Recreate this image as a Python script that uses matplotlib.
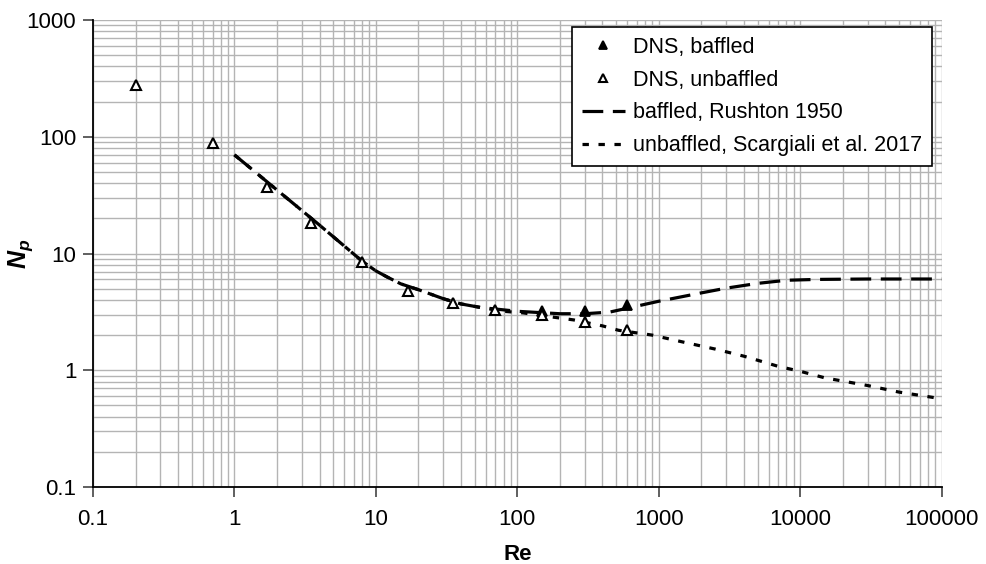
"""Np vs Re: DNS points against Rushton (baffled) and Scargiali (unbaffled) correlations."""

import matplotlib

matplotlib.use("Agg")
import matplotlib.pyplot as plt  # noqa: E402
from matplotlib.ticker import FixedLocator, LogLocator, NullFormatter  # noqa: E402

plt.rcParams["font.family"] = ["Liberation Sans", "DejaVu Sans"]
plt.rcParams["mathtext.fontset"] = "custom"
plt.rcParams["mathtext.it"] = "Liberation Sans:bold:italic"
plt.rcParams["mathtext.rm"] = "Liberation Sans:bold"

# DNS points
re_baffled = [150, 300, 600]
np_baffled = [3.2, 3.2, 3.65]
re_unbaffled = [0.2, 0.7, 1.7, 3.5, 8, 17, 35, 70, 150, 300, 600]
np_unbaffled = [280, 88, 37, 18.2, 8.4, 4.8, 3.75, 3.3, 2.95, 2.6, 2.2]

# correlations
re_rushton = [1, 2, 4, 8, 10, 12, 15, 20, 30, 40, 55, 100, 200, 300, 450, 600,
              1000, 2000, 3000, 5000, 8000, 13000, 30000, 100000]
np_rushton = [70, 35, 17.5, 8.6, 7.1, 6.3, 5.5, 4.9, 4.1, 3.7, 3.45, 3.2, 3.05, 3.05,
              3.15, 3.4, 3.9, 4.6, 5.05, 5.55, 5.9, 6.0, 6.05, 6.05]
re_scargiali = [1, 2, 4, 8, 10, 12, 15, 20, 30, 40, 55, 80, 110, 180, 250, 400, 520,
                900, 1500, 2500, 4000, 7000, 10000, 15000, 30000, 50000, 100000]
np_scargiali = [70, 35, 17.5, 8.6, 7.1, 6.3, 5.5, 4.9, 4.1, 3.7, 3.45, 3.2, 3.1, 2.85,
                2.7, 2.4, 2.2, 2.0, 1.74, 1.52, 1.32, 1.08, 0.98, 0.86, 0.74, 0.65, 0.57]

x_ticks = [0.1, 1, 10, 100, 1000, 10000, 100000]
x_labels = ["0.1", "1", "10", "100", "1000", "10000", "100000"]
y_ticks = [0.1, 1, 10, 100, 1000]
y_labels = ["0.1", "1", "10", "100", "1000"]

fig = plt.figure(figsize=(9.86, 5.64), dpi=100)
ax = fig.add_axes([0.0943, 0.1365, 0.8607, 0.828])

ax.plot(re_rushton, np_rushton, color="black", lw=2.3, dashes=(6.5, 3),
        label="baffled, Rushton 1950", zorder=3)
ax.plot(re_scargiali, np_scargiali, color="black", lw=2.3, dashes=(2, 3),
        label="unbaffled, Scargiali et al. 2017", zorder=3)
ax.plot(re_baffled, np_baffled, "^", ms=7, color="black", mew=1.3,
        label="DNS, baffled", zorder=4)
ax.plot(re_unbaffled, np_unbaffled, "^", ms=7, mfc="white", mec="black", mew=1.5,
        label="DNS, unbaffled", zorder=5)

ax.set_xscale("log")
ax.set_yscale("log")
ax.set_xlim(0.1, 100000)
ax.set_ylim(0.1, 1000)
ax.xaxis.set_major_locator(FixedLocator(x_ticks))
ax.set_xticklabels(x_labels)
ax.yaxis.set_major_locator(FixedLocator(y_ticks))
ax.set_yticklabels(y_labels)
for axis in (ax.xaxis, ax.yaxis):
    axis.set_minor_locator(LogLocator(base=10, subs=range(2, 10), numticks=20))
    axis.set_minor_formatter(NullFormatter())
ax.tick_params(which="major", direction="out", length=7, width=1.2, labelsize=16,
               color="#444444")
ax.tick_params(axis="x", pad=9)
ax.tick_params(axis="y", pad=5)
ax.tick_params(which="minor", length=0)
ax.grid(which="both", color="#b4b4b4", lw=1.0)
ax.set_axisbelow(True)
for side in ("top", "right"):
    ax.spines[side].set_visible(False)
for side in ("left", "bottom"):
    ax.spines[side].set_linewidth(1.3)

ax.set_xlabel("Re", fontsize=16, fontweight="bold", labelpad=10)
ax.set_ylabel(r"$N_p$", fontsize=18)
ax.yaxis.set_label_coords(-0.068, 0.5)

handles, labels = ax.get_legend_handles_labels()
order = [2, 3, 0, 1]
leg = ax.legend([handles[i] for i in order], [labels[i] for i in order],
                loc="upper right", bbox_to_anchor=(0.989, 0.985), borderaxespad=0,
                fontsize=15.5, frameon=True, fancybox=False, edgecolor="black",
                framealpha=1, handlelength=2.0, handletextpad=0.4, labelspacing=0.55,
                borderpad=0.45, markerscale=0.85)
leg.get_frame().set_linewidth(1.2)

fig.savefig("out.png", dpi=100)
